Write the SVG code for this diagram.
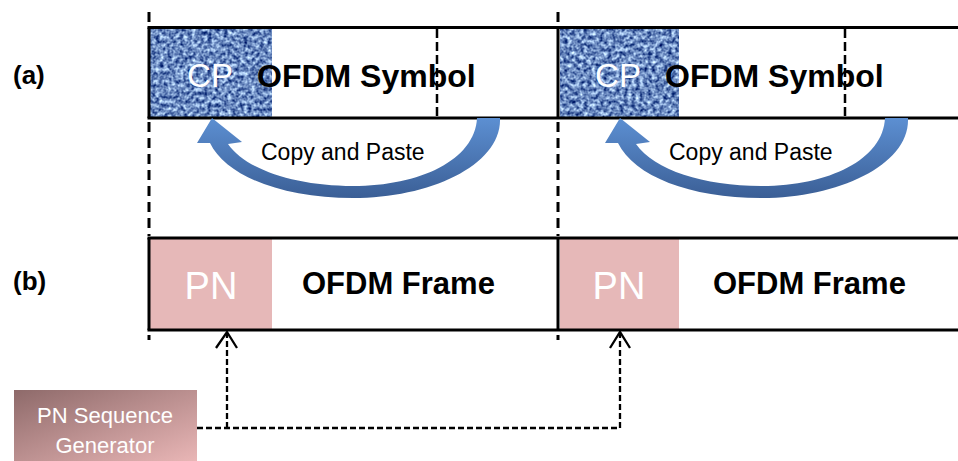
<svg xmlns="http://www.w3.org/2000/svg" width="958" height="461" viewBox="0 0 958 461">
<style>
.frame{stroke:#000;stroke-width:3;fill:none}
.guide{stroke:#000;stroke-width:3;stroke-dasharray:10 6;fill:none}
.inner{stroke:#000;stroke-width:2.5;stroke-dasharray:9 4;fill:none}
.conn{stroke:#000;stroke-width:2.3;stroke-dasharray:6 3;fill:none}
.head{stroke:#000;stroke-width:2.3;fill:none}
.lbl{font-family:"Liberation Sans",Arial,sans-serif;font-weight:bold;font-size:26px;fill:#000}
.big{font-family:"Liberation Sans",Arial,sans-serif;fill:#fff}
.bold{font-family:"Liberation Sans",Arial,sans-serif;font-weight:bold;fill:#000}
.cap{font-family:"Liberation Sans",Arial,sans-serif;font-size:23px;fill:#000}
.gen{font-family:"Liberation Sans",Arial,sans-serif;font-size:22px;fill:#fff}
</style>
<defs>
<filter id="denim" x="0" y="0" width="1" height="1" color-interpolation-filters="sRGB">
<feTurbulence type="fractalNoise" baseFrequency="0.25" numOctaves="2" seed="5" result="n"/>
<feColorMatrix in="n" type="matrix" values="1.3 0 0 0 -0.23  1.3 0 0 0 -0.11  1.0 0 0 0 0.25  0 0 0 0 1" result="c"/>
<feComposite in="c" in2="SourceGraphic" operator="in"/>
</filter>
<linearGradient id="blue" x1="0" y1="0" x2="0" y2="1">
<stop offset="0" stop-color="#5c8fd2"/>
<stop offset="1" stop-color="#3b5f96"/>
</linearGradient>
<linearGradient id="mauve" x1="0" y1="0" x2="1" y2="1">
<stop offset="0" stop-color="#8e6a6a"/>
<stop offset="1" stop-color="#e9b6b6"/>
</linearGradient>
<path id="curl" d="M500,118 C502,165 430,198 353,198 C282,198 226,176 210,143 L197,143 L212,118 L242,142 L228,144 C246,170 296,186 353,186 C420,186 475,160 477,118 Z"/>
</defs>

<g id="label-a"><text class="lbl" x="13" y="84">(a)</text></g>
<g id="label-b"><text class="lbl" x="13" y="290">(b)</text></g>

<g id="cp1">
<rect x="150" y="29" width="122" height="88" fill="#5f84c2"/>
<rect x="150" y="29" width="122" height="88" fill="#5f84c2" filter="url(#denim)"/>
<text class="big" x="210" y="87" font-size="33" text-anchor="middle">CP</text>
</g>
<g id="cp2">
<rect x="560" y="29" width="119" height="88" fill="#5f84c2"/>
<rect x="560" y="29" width="119" height="88" fill="#5f84c2" filter="url(#denim)"/>
<text class="big" x="618" y="87" font-size="33" text-anchor="middle">CP</text>
</g>
<g id="pn1">
<rect x="150" y="239" width="122" height="90" fill="#e6b8b8"/>
<text class="big" x="211" y="299" font-size="38" text-anchor="middle">PN</text>
</g>
<g id="pn2">
<rect x="560" y="239" width="119" height="90" fill="#e6b8b8"/>
<text class="big" x="619" y="299" font-size="38" text-anchor="middle">PN</text>
</g>

<g id="frames">
<line class="frame" x1="147.5" y1="27.5" x2="958" y2="27.5"/>
<line class="frame" x1="147.5" y1="118" x2="958" y2="118"/>
<line class="frame" x1="149" y1="27.5" x2="149" y2="118"/>
<line class="frame" x1="558" y1="27.5" x2="558" y2="118"/>
<line class="frame" x1="147.5" y1="238" x2="958" y2="238"/>
<line class="frame" x1="147.5" y1="330" x2="958" y2="330"/>
<line class="frame" x1="149" y1="238" x2="149" y2="330"/>
<line class="frame" x1="558" y1="238" x2="558" y2="330"/>
<line class="inner" x1="437" y1="29" x2="437" y2="117"/>
<line class="inner" x1="845" y1="29" x2="845" y2="117"/>
<line class="guide" x1="149" y1="12" x2="149" y2="24"/>
<line class="guide" x1="558" y1="12" x2="558" y2="24"/>
<line class="guide" x1="149" y1="122" x2="149" y2="236"/>
<line class="guide" x1="558" y1="122" x2="558" y2="236"/>
<line class="guide" x1="149" y1="335" x2="149" y2="340"/>
<line class="guide" x1="558" y1="335" x2="558" y2="340"/>
</g>

<g id="sym1"><text class="bold" x="257" y="87" font-size="32">OFDM Symbol</text></g>
<g id="sym2"><text class="bold" x="665" y="87" font-size="32">OFDM Symbol</text></g>
<g id="frame1"><text class="bold" x="302" y="294" font-size="31">OFDM Frame</text></g>
<g id="frame2"><text class="bold" x="713" y="294" font-size="31">OFDM Frame</text></g>

<g id="generator">
<rect x="14" y="390" width="183" height="71" fill="url(#mauve)"/>
<text class="gen" x="105" y="423" text-anchor="middle">PN Sequence</text>
<text class="gen" x="105" y="453" text-anchor="middle">Generator</text>
</g>

<g id="connectors">
<use href="#curl" fill="url(#blue)"/>
<use href="#curl" fill="url(#blue)" transform="translate(408,0)"/>
<text class="cap" x="261" y="160">Copy and Paste</text>
<text class="cap" x="669" y="160">Copy and Paste</text>
<path class="conn" d="M197,428 H620 V334"/>
<path class="conn" d="M227,428 V334"/>
<path class="head" d="M216,348 L227,332 L237,348"/>
<path class="head" d="M610,348 L620,332 L630,348"/>
</g>
</svg>
